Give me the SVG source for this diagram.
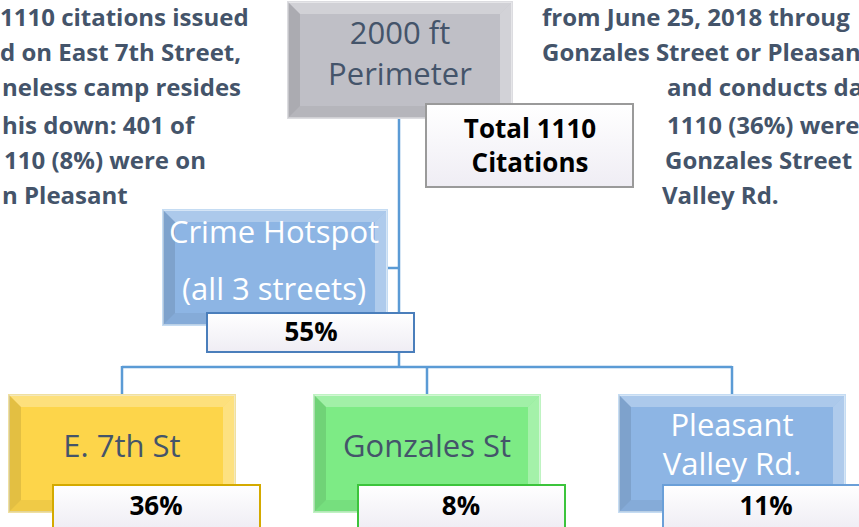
<svg xmlns="http://www.w3.org/2000/svg" width="859" height="527" viewBox="0 0 859 527">
<defs>
<linearGradient id="lab" x1="0" y1="0" x2="0" y2="1">
<stop offset="0" stop-color="#ffffff"/>
<stop offset="1" stop-color="#efedf4"/>
</linearGradient>
</defs>
<style>
.para{font-family:"Open Sans","Liberation Sans",sans-serif;font-weight:bold;font-size:24px;fill:#44546a}
.node{font-family:"Open Sans","Liberation Sans",sans-serif;font-size:31px;text-anchor:middle}
.dark{fill:#44546a}
.light{fill:#ffffff}
.pct{font-family:"Open Sans","Liberation Sans",sans-serif;font-weight:bold;font-size:26px;fill:#000;text-anchor:middle}
.bt{fill:#ffffff;fill-opacity:.28}
.bl{fill:#000000;fill-opacity:.10}
.br{fill:#ffffff;fill-opacity:.30}
.bb{fill:#000000;fill-opacity:.05}
.conn{stroke:#5b9bd5;stroke-width:2.5;fill:none}
.lab{fill:url(#lab);stroke-width:2}
</style>

<g id="para-left" class="para">
<text x="0" y="26">1110 citations issued</text>
<text x="0" y="61">d on East 7th Street,</text>
<text x="2" y="96">neless camp resides</text>
<text x="2" y="134">his down: 401 of</text>
<text x="4" y="169">110 (8%) were on</text>
<text x="2" y="204">n Pleasant</text>
</g>
<g id="para-right" class="para">
<text x="542" y="26">from June 25, 2018 throug</text>
<text x="542" y="61">Gonzales Street or Pleasan</text>
<text x="667" y="96">and conducts da</text>
<text x="667" y="134">1110 (36%) were</text>
<text x="665" y="169">Gonzales Street</text>
<text x="662" y="204">Valley Rd.</text>
</g>

<g id="connectors">
<path class="conn" d="M399,118 V367"/>
<path class="conn" d="M386,268 H399"/>
<path class="conn" d="M122,367 H732"/>
<path class="conn" d="M122,366 V395"/>
<path class="conn" d="M427,366 V395"/>
<path class="conn" d="M732,366 V395"/>
</g>

<g id="node-perimeter">
<rect x="288" y="2" width="224" height="116" fill="#bfbfc6" stroke="#dcdce0" stroke-width="2"/>
<polygon class="bt" points="288,2 512,2 500,14 300,14"/>
<polygon class="bl" points="288,2 300,14 300,106 288,118"/>
<polygon class="br" points="512,2 512,118 500,106 500,14"/>
<polygon class="bb" points="288,118 300,106 500,106 512,118"/>
<text class="node dark" x="400" y="44">2000 ft</text>
<text class="node dark" x="400" y="85">Perimeter</text>
</g>
<g id="label-total">
<rect class="lab" x="426" y="104" width="207" height="83" stroke="#9a9a9a"/>
<text class="pct" x="530" y="138">Total 1110</text>
<text class="pct" x="530" y="172">Citations</text>
</g>

<g id="node-hotspot">
<rect x="163" y="210" width="224" height="115" fill="#8db5e4" stroke="#c5dcf3" stroke-width="2"/>
<polygon class="bt" points="163,210 387,210 375,222 175,222"/>
<polygon class="bl" points="163,210 175,222 175,313 163,325"/>
<polygon class="br" points="387,210 387,325 375,313 375,222"/>
<polygon class="bb" points="163,325 175,313 375,313 387,325"/>
<text class="node light" x="274" y="243">Crime Hotspot</text>
<text class="node light" x="274" y="300">(all 3 streets)</text>
</g>
<g id="label-55">
<rect class="lab" x="207" y="313" width="207" height="39" stroke="#4a7ebb"/>
<text class="pct" x="311" y="341">55%</text>
</g>

<g id="node-e7th">
<rect x="9" y="395" width="226" height="117" fill="#fdd54a" stroke="#f0e0a0" stroke-width="2"/>
<polygon class="bt" points="9,395 235,395 223,407 21,407"/>
<polygon class="bl" points="9,395 21,407 21,500 9,512"/>
<polygon class="br" points="235,395 235,512 223,500 223,407"/>
<polygon class="bb" points="9,512 21,500 223,500 235,512"/>
<text class="node dark" x="122" y="457">E. 7th St</text>
</g>
<g id="label-36">
<rect class="lab" x="53" y="485" width="207" height="44" stroke="#d4aa00"/>
<text class="pct" x="156" y="515">36%</text>
</g>

<g id="node-gonzales">
<rect x="314" y="395" width="226" height="117" fill="#7deb85" stroke="#bff3c2" stroke-width="2"/>
<polygon class="bt" points="314,395 540,395 528,407 326,407"/>
<polygon class="bl" points="314,395 326,407 326,500 314,512"/>
<polygon class="br" points="540,395 540,512 528,500 528,407"/>
<polygon class="bb" points="314,512 326,500 528,500 540,512"/>
<text class="node dark" x="427" y="457">Gonzales St</text>
</g>
<g id="label-8">
<rect class="lab" x="358" y="485" width="207" height="44" stroke="#3cc43c"/>
<text class="pct" x="461" y="515">8%</text>
</g>

<g id="node-pleasant">
<rect x="619" y="395" width="226" height="117" fill="#8db5e4" stroke="#c5dcf3" stroke-width="2"/>
<polygon class="bt" points="619,395 845,395 833,407 631,407"/>
<polygon class="bl" points="619,395 631,407 631,500 619,512"/>
<polygon class="br" points="845,395 845,512 833,500 833,407"/>
<polygon class="bb" points="619,512 631,500 833,500 845,512"/>
<text class="node light" x="732" y="436">Pleasant</text>
<text class="node light" x="732" y="475">Valley Rd.</text>
</g>
<g id="label-11">
<rect class="lab" x="663" y="485" width="207" height="44" stroke="#6a9fd8"/>
<text class="pct" x="766" y="515">11%</text>
</g>
</svg>
